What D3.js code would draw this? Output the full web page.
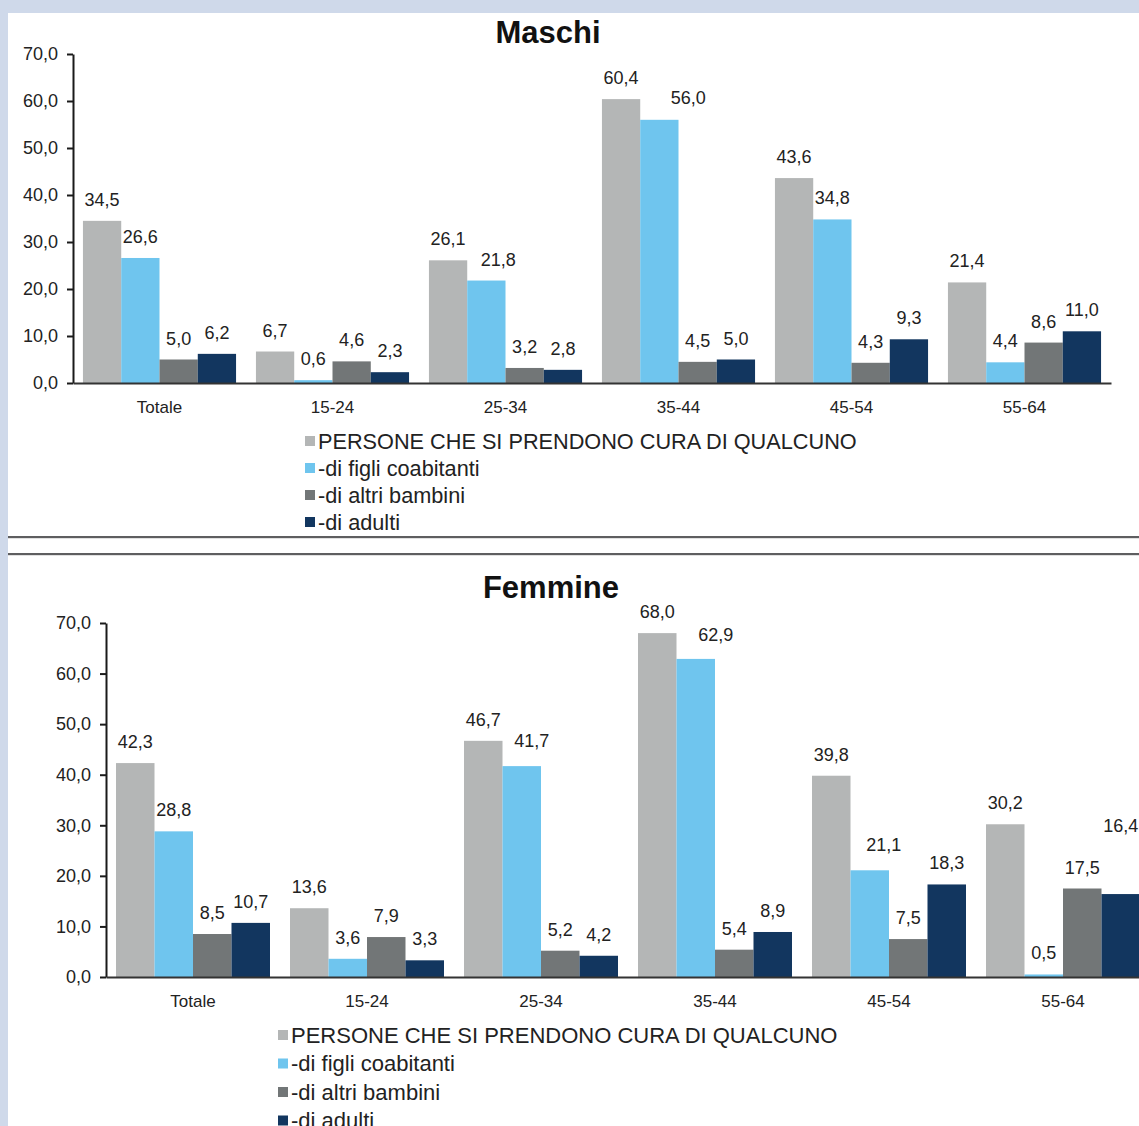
<!DOCTYPE html>
<html>
<head>
<meta charset="utf-8">
<script src="https://cdn.jsdelivr.net/npm/d3@7/dist/d3.min.js"></script>
<style>
  html, body { margin: 0; padding: 0; background: #cfd9ea; }
  svg { display: block; }
</style>
</head>
<body>
<svg id="chart" width="1139" height="1126"></svg>
<script>
// Age groups shown on the x axis
const categories = ["Totale", "15-24", "25-34", "35-44", "45-54", "55-64"];

// Series names (legend entries)
const seriesNames = [
  "PERSONE CHE SI PRENDONO CURA DI QUALCUNO",
  "-di figli coabitanti",
  "-di altri bambini",
  "-di adulti"
];

// Males, percentages
const maschiPersone = [34.5, 6.7, 26.1, 60.4, 43.6, 21.4];
const maschiFigli   = [26.6, 0.6, 21.8, 56.0, 34.8, 4.4];
const maschiAltri   = [5.0, 4.6, 3.2, 4.5, 4.3, 8.6];
const maschiAdulti  = [6.2, 2.3, 2.8, 5.0, 9.3, 11.0];

// Females, percentages
const femminePersone = [42.3, 13.6, 46.7, 68.0, 39.8, 30.2];
const femmineFigli   = [28.8, 3.6, 41.7, 62.9, 21.1, 0.5];
const femmineAltri   = [8.5, 7.9, 5.2, 5.4, 7.5, 17.5];
const femmineAdulti  = [10.7, 3.3, 4.2, 8.9, 18.3, 16.4];

// Y axis ticks
const yTicks = [0, 10, 20, 30, 40, 50, 60, 70];

const colors = ["#b4b6b6", "#6fc5ee", "#727677", "#12365f"];
const fmt = v => d3.format(".1f")(v).replace(".", ",");
const FONT = "Liberation Sans, Arial, sans-serif";

const svg = d3.select("#chart");
const W = 1139, H = 1126;

// white panel over the blue-grey frame
svg.append("rect").attr("x", 8).attr("y", 13).attr("width", W - 8).attr("height", H - 13).attr("fill", "#ffffff");

// double separator between the two panels
[537, 554].forEach(y => {
  svg.append("line").attr("x1", 8).attr("x2", W).attr("y1", y + 1).attr("y2", y + 1)
    .attr("stroke", "#d6d6d6").attr("stroke-width", 1.5);
  svg.append("line").attr("x1", 8).attr("x2", W).attr("y1", y).attr("y2", y)
    .attr("stroke", "#5e5e60").attr("stroke-width", 2);
});

function drawPanel(cfg) {
  const g = svg.append("g");
  const x0 = d3.scaleBand().domain(categories).range(cfg.xRange).paddingInner(0.115).paddingOuter(0.0575);
  const x1 = d3.scaleBand().domain(d3.range(4)).range([0, x0.bandwidth()]);
  const y = d3.scaleLinear().domain([0, 70]).range(cfg.yRange);

  // title
  g.append("text").attr("x", cfg.titleX).attr("y", cfg.titleY)
    .attr("text-anchor", "middle").attr("font-family", FONT)
    .attr("font-weight", "bold").attr("font-size", 31).attr("fill", "#111").text(cfg.title);

  // bars
  const groups = g.selectAll("g.grp").data(categories).join("g")
    .attr("transform", c => `translate(${x0(c)},0)`);
  cfg.series.forEach((vals, si) => {
    groups.append("rect")
      .attr("x", () => x1(si))
      .attr("y", (c, i) => y(vals[i]))
      .attr("width", x1.bandwidth())
      .attr("height", (c, i) => y(0) - y(vals[i]))
      .attr("fill", colors[si]);
  });

  // value labels, a few nudged aside so they clear their neighbours
  const nudge = (si, i) => (cfg.nudge[si] && cfg.nudge[si][i]) || [0, 0];
  cfg.series.forEach((vals, si) => {
    groups.append("text")
      .attr("x", (c, i) => x1(si) + x1.bandwidth() / 2 + nudge(si, i)[0])
      .attr("y", (c, i) => y(vals[i]) - 15 + nudge(si, i)[1])
      .attr("text-anchor", "middle")
      .attr("font-family", FONT)
      .attr("font-size", 18).attr("fill", "#222")
      .text((c, i) => fmt(vals[i]));
  });

  // y axis
  const yAxis = d3.axisLeft(y).tickValues(yTicks).tickFormat(fmt).tickSize(6).tickSizeOuter(0).tickPadding(9);
  const ya = g.append("g").attr("transform", `translate(${cfg.xRange[0]},0)`).call(yAxis);
  ya.select(".domain").attr("stroke", "#1a1a1a").attr("stroke-width", 2);
  ya.selectAll(".tick line").attr("stroke", "#1a1a1a").attr("stroke-width", 2);
  ya.selectAll(".tick text").attr("font-family", FONT).attr("font-size", 18).attr("fill", "#222");

  // x axis
  const xAxis = d3.axisBottom(x0).tickSize(0).tickSizeOuter(0).tickPadding(18);
  const xa = g.append("g").attr("transform", `translate(0,${y(0)})`).call(xAxis);
  xa.select(".domain").attr("stroke", "#333").attr("stroke-width", 2);
  xa.selectAll(".tick text").attr("font-family", FONT).attr("font-size", 17).attr("fill", "#222");

  // legend
  const lg = g.append("g").attr("transform", `translate(${cfg.legendX},${cfg.legendY})`);
  seriesNames.forEach((name, i) => {
    const row = lg.append("g").attr("transform", `translate(0,${i * cfg.legendStep})`);
    row.append("rect").attr("x", 0).attr("y", -5).attr("width", 10).attr("height", 10).attr("fill", colors[i]);
    row.append("text").attr("x", 13).attr("y", 7.5)
      .attr("font-family", FONT)
      .attr("font-size", cfg.legendFont).attr("fill", "#222").text(name);
  });
}

drawPanel({
  title: "Maschi", titleX: 548, titleY: 43,
  xRange: [73, 1111], yRange: [383, 54],
  series: [maschiPersone, maschiFigli, maschiAltri, maschiAdulti],
  nudge: { 1: { 2: [12, 0], 3: [29, -1] } },
  legendX: 305, legendY: 441, legendStep: 27, legendFont: 21.7
});

drawPanel({
  title: "Femmine", titleX: 551, titleY: 598,
  xRange: [106, 1150], yRange: [977, 623],
  series: [femminePersone, femmineFigli, femmineAltri, femmineAdulti],
  nudge: { 1: { 2: [10, -4], 3: [20, -3], 4: [14, -4] }, 3: { 5: [0, -47] } },
  legendX: 278, legendY: 1035, legendStep: 28.5, legendFont: 22
});
</script>
</body>
</html>
